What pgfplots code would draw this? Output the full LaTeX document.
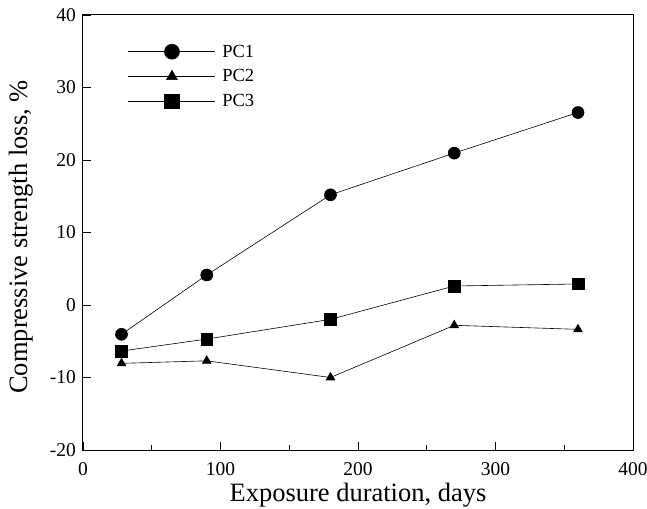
\documentclass[border=0pt]{standalone}
\usepackage{pgfplots}
\pgfplotsset{compat=1.18}
\usepackage{fontspec}
\setmainfont{Liberation Serif}
\begin{document}
\begin{tikzpicture}
\begin{axis}[
  name=ax,
  scale only axis, width=550pt, height=435pt,
  xmin=0, xmax=400, ymin=-20, ymax=40,
  xtick={0,100,200,300,400}, ytick={-20,-10,0,10,20,30,40},
  minor xtick={50,150,250,350},
  tick pos=left, tick align=inside,
  major tick length=8pt, minor tick length=5pt,
  every tick/.style={black, line width=0.8pt},
  axis line style={line width=1pt},
  /pgf/number format/assume math mode=true,
  ticklabel style={font=\fontsize{19.5}{21}\selectfont},
  xticklabel style={yshift=-8.5pt},
  yticklabel style={xshift=-3.5pt},
  xlabel={Exposure duration, days}, ylabel={Compressive strength loss, \%},
  xlabel style={font=\fontsize{26.5}{28}\selectfont, inner sep=0pt,
    at={(axis description cs:0.5,-0.1195)}, anchor=base},
  ylabel style={font=\fontsize{26.5}{28}\selectfont, inner sep=0pt,
    at={(axis description cs:-0.0909,0.4897)}, anchor=south},
  legend style={draw=none, fill=none, at={(axis cs:32.7,36.0)}, anchor=north west,
    font=\fontsize{18.5}{20}\selectfont, row sep=10.5pt, column sep=6.5pt, inner sep=0pt,
    nodes={inner sep=0pt}},
  legend cell align=left,
  legend image code/.code={\draw[mark repeat=2,mark phase=2, every mark/.append style={scale=1.25}] plot coordinates {(0pt,0pt) (43.5pt,0pt) (87pt,0pt)};},
]
\addplot[black, line width=0.6pt, mark=*, mark size=6pt] coordinates {(28,-4.04) (90,4.14) (180,15.2) (270,20.95) (360,26.55)};
\addlegendentry{PC1}
\addplot[black, line width=0.6pt, mark=triangle*, mark size=5pt] coordinates {(28,-8.05) (90,-7.7) (180,-10.0) (270,-2.8) (360,-3.36)};
\addlegendentry{PC2}
\addplot[black, line width=0.6pt, mark=square*, mark size=5.8pt] coordinates {(28,-6.35) (90,-4.7) (180,-1.98) (270,2.62) (360,2.9)};
\addlegendentry{PC3}
\end{axis}
\pgfresetboundingbox
\path ([xshift=-83pt,yshift=-58pt]ax.south west) rectangle ([xshift=14pt,yshift=15pt]ax.north east);
\end{tikzpicture}
\end{document}
